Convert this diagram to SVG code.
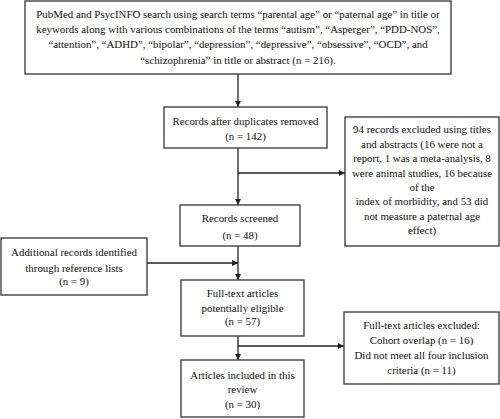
<svg xmlns="http://www.w3.org/2000/svg" width="500" height="419" viewBox="0 0 500 419">
<style>
.box{fill:#fff;stroke:#333;stroke-width:1.3}
.ln{fill:none;stroke:#222;stroke-width:1.3}
text{font-family:'Liberation Serif','Times New Roman',Times,serif;font-size:10.9px;fill:#111;text-anchor:middle}
</style>
<defs>
<marker id="ah" viewBox="0 0 10 10" refX="10" refY="5" markerWidth="6" markerHeight="6" orient="auto" markerUnits="userSpaceOnUse">
<path d="M0,0 L10,5 L0,10 z" fill="#222"/>
</marker>
</defs>
<rect width="500" height="419" fill="#fff"/>
<g id="connectors">
<line class="ln" x1="238" y1="74" x2="238" y2="107" marker-end="url(#ah)"/>
<line class="ln" x1="238" y1="148" x2="238" y2="205" marker-end="url(#ah)"/>
<line class="ln" x1="238" y1="173" x2="345" y2="173" marker-end="url(#ah)"/>
<line class="ln" x1="238" y1="246" x2="238" y2="280" marker-end="url(#ah)"/>
<line class="ln" x1="147" y1="263" x2="238" y2="263" marker-end="url(#ah)"/>
<line class="ln" x1="238" y1="336" x2="238" y2="360" marker-end="url(#ah)"/>
<line class="ln" x1="238" y1="346" x2="344" y2="346" marker-end="url(#ah)"/>
</g>
<g id="search">
<rect class="box" x="25" y="1" width="426" height="73"/>
<text x="238" y="18">PubMed and PsycINFO search using search terms “parental age” or “paternal age” in title or</text>
<text x="238" y="33">keywords along with various combinations of the terms “autism”, “Asperger”, “PDD-NOS”,</text>
<text x="238" y="48">“attention”, “ADHD”, “bipolar”, “depression”, “depressive”, “obsessive”, “OCD”, and</text>
<text x="238" y="64">“schizophrenia” in title or abstract (n = 216).</text>
</g>
<g id="dedup">
<rect class="box" x="164" y="107" width="163" height="41"/>
<text x="245.5" y="125">Records after duplicates removed</text>
<text x="245.5" y="140">(n = 142)</text>
</g>
<g id="excluded1">
<rect class="box" x="345" y="117" width="154" height="129"/>
<text x="422" y="133">94 records excluded using titles</text>
<text x="422" y="148">and abstracts (16 were not a</text>
<text x="422" y="162">report, 1 was a meta-analysis, 8</text>
<text x="422" y="177">were animal studies, 16 because</text>
<text x="422" y="191">of the</text>
<text x="422" y="205">index of morbidity, and 53 did</text>
<text x="422" y="220">not measure a paternal age</text>
<text x="422" y="234">effect)</text>
</g>
<g id="screened">
<rect class="box" x="180" y="205" width="120" height="41"/>
<text x="240" y="222">Records screened</text>
<text x="240" y="239">(n = 48)</text>
</g>
<g id="additional">
<rect class="box" x="1" y="238" width="146" height="57"/>
<text x="74" y="256">Additional records identified</text>
<text x="74" y="272">through reference lists</text>
<text x="74" y="285">(n = 9)</text>
</g>
<g id="eligible">
<rect class="box" x="181" y="280" width="123" height="56"/>
<text x="242.5" y="297">Full-text articles</text>
<text x="242.5" y="312">potentially eligible</text>
<text x="242.5" y="325">(n = 57)</text>
</g>
<g id="excluded2">
<rect class="box" x="344" y="312" width="155" height="72"/>
<text x="421.5" y="329">Full-text articles excluded:</text>
<text x="421.5" y="344">Cohort overlap (n = 16)</text>
<text x="421.5" y="359">Did not meet all four inclusion</text>
<text x="421.5" y="374">criteria (n = 11)</text>
</g>
<g id="included">
<rect class="box" x="181" y="360" width="123" height="57"/>
<text x="242.5" y="379">Articles included in this</text>
<text x="242.5" y="393">review</text>
<text x="242.5" y="408">(n = 30)</text>
</g>
</svg>
